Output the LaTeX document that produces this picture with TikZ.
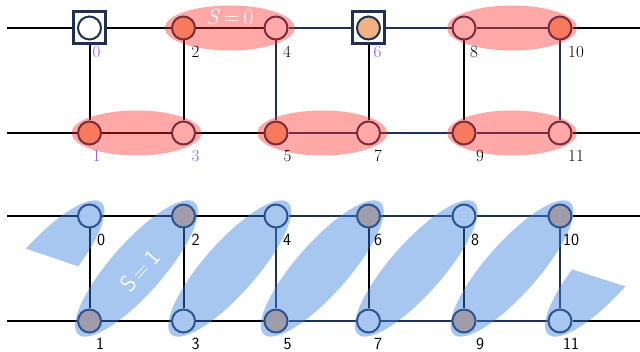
\documentclass[tikz,border=0pt]{standalone}
\usepackage{fontspec}
\usetikzlibrary{shapes.geometric,calc}
\definecolor{navy}{HTML}{1E3150}
\definecolor{peach}{HTML}{F2B283}
\definecolor{violet}{HTML}{9955EE}
\definecolor{redE}{HTML}{FF2626}
\definecolor{blueE}{HTML}{3D82DE}
\pgfdeclarelayer{background}
\pgfdeclarelayer{foreground}
\pgfsetlayers{background,main,foreground}
\begin{document}
\begin{tikzpicture}[x=1pt,y=-1pt,
  site/.style={circle,draw=navy,line width=2pt,minimum size=23pt,inner sep=0pt,fill=white},
  pk/.style={site,fill=peach},
  sqbox/.style={rectangle,draw=navy,line width=3pt,fill=white,minimum size=32pt,inner sep=0pt},
  bond/.style={line width=2pt,draw=black},
  nbond/.style={line width=2pt,draw=navy},
  lab/.style={font=\fontsize{17}{19}\selectfont,inner sep=0pt},
  slab/.style={font=\sffamily\fontsize{17}{19}\selectfont,inner sep=0pt},
  redell/.style={ellipse,fill=redE,fill opacity=0.4,inner sep=0pt,minimum width=130pt,minimum height=45pt},
  blueell/.style={ellipse,fill=blueE,fill opacity=0.45,inner sep=0pt,minimum width=176pt,minimum height=52pt,rotate=48.5}]
\useasboundingbox (0,0) rectangle (640,352);

% ---------- top half ----------
\node[sqbox] (sq0) at (89.5,28) {};
\node[sqbox] (sq6) at (368.5,28) {};
\node[site] (t0) at (89.5,28) {};
\node[pk]   (t2) at (183.5,28) {};
\node[site] (t4) at (276,28) {};
\node[pk]   (t6) at (368.5,28) {};
\node[site] (t8) at (464,28) {};
\node[pk]   (t10) at (560,28) {};
\node[pk]   (t1) at (89.5,133) {};
\node[site] (t3) at (183.5,133) {};
\node[pk]   (t5) at (276,133) {};
\node[site] (t7) at (368.5,133) {};
\node[pk]   (t9) at (464,133) {};
\node[site] (t11) at (560,133) {};
\coordinate (tLa) at (7,28);
\coordinate (tRa) at (640,28);
\coordinate (tLb) at (7,133);
\coordinate (tRb) at (640,133);

% ---------- bottom half ----------
\node[site] (b0) at (89.5,216) {};
\node[pk]   (b2) at (183.5,216) {};
\node[site] (b4) at (276,216) {};
\node[pk]   (b6) at (368.5,216) {};
\node[site] (b8) at (464,216) {};
\node[pk]   (b10) at (560,216) {};
\node[pk]   (b1) at (89.5,321) {};
\node[site] (b3) at (183.5,321) {};
\node[pk]   (b5) at (276,321) {};
\node[site] (b7) at (368.5,321) {};
\node[pk]   (b9) at (464,321) {};
\node[site] (b11) at (560,321) {};
\coordinate (bLa) at (7,216);
\coordinate (bRa) at (640,216);
\coordinate (bLb) at (7,321);
\coordinate (bRb) at (640,321);

\begin{pgfonlayer}{background}
  \fill[white] (0,0) rectangle (640,352);
  % top half bonds
  \draw[bond] (tLa) -- (t0);
  \draw[bond] (t0) -- (t2);
  \draw[bond] (t2) -- (t4);
  \draw[nbond] (t4) -- (t6);
  \draw[nbond] (t6) -- (t8);
  \draw[nbond] (t8) -- (t10);
  \draw[bond] (t10) -- (tRa);
  \draw[bond] (tLb) -- (t1);
  \draw[bond] (t1) -- (t3);
  \draw[bond] (t3) -- (t5);
  \draw[nbond] (t5) -- (t7);
  \draw[nbond] (t7) -- (t9);
  \draw[nbond] (t9) -- (t11);
  \draw[bond] (t11) -- (tRb);
  \draw[bond] (t0) -- (t1);
  \draw[bond] (t2) -- (t3);
  \draw[nbond] (t4) -- (t5);
  \draw[bond] (t6) -- (t7);
  \draw[bond] (t8) -- (t9);
  \draw[nbond] (t10) -- (t11);
  % bottom half bonds
  \draw[bond] (bLa) -- (b0);
  \draw[bond] (b0) -- (b2);
  \draw[bond] (b2) -- (b4);
  \draw[nbond] (b4) -- (b6);
  \draw[nbond] (b6) -- (b8);
  \draw[nbond] (b8) -- (b10);
  \draw[bond] (b10) -- (bRa);
  \draw[bond] (bLb) -- (b1);
  \draw[bond] (b1) -- (b3);
  \draw[bond] (b3) -- (b5);
  \draw[nbond] (b5) -- (b7);
  \draw[nbond] (b7) -- (b9);
  \draw[nbond] (b9) -- (b11);
  \draw[bond] (b11) -- (bRb);
  \draw[bond] (b0) -- (b1);
  \draw[bond] (b2) -- (b3);
  \draw[nbond] (b4) -- (b5);
  \draw[bond] (b6) -- (b7);
  \draw[bond] (b8) -- (b9);
  \draw[nbond] (b10) -- (b11);
\end{pgfonlayer}

\begin{pgfonlayer}{foreground}
  % red pair ellipses
  \node[redell] (e24) at ($(t2)!0.5!(t4)$) {};
  \node[redell] (e810) at ($(t8)!0.5!(t10)$) {};
  \node[redell] (e13) at ($(t1)!0.5!(t3)$) {};
  \node[redell] (e57) at ($(t5)!0.5!(t7)$) {};
  \node[redell] (e911) at ($(t9)!0.5!(t11)$) {};
  % blue diagonal ellipses
  \node[blueell] (f12) at ($(b1)!0.5!(b2)$) {};
  \node[blueell] (f34) at ($(b3)!0.5!(b4)$) {};
  \node[blueell] (f56) at ($(b5)!0.5!(b6)$) {};
  \node[blueell] (f78) at ($(b7)!0.5!(b8)$) {};
  \node[blueell] (f910) at ($(b9)!0.5!(b10)$) {};
  \begin{scope}
    \clip (-100,205.8) -- (200,307.8) -- (200,100) -- (-100,100) -- cycle;
    \node[blueell] (fL) at (43,268.5) {};
  \end{scope}
  \begin{scope}
    \clip (500,246.3) -- (700,310.3) -- (700,400) -- (500,400) -- cycle;
    \node[blueell] (fR) at (606.5,268.5) {};
  \end{scope}
  % texts
  \node[text=white,font=\fontsize{22}{26}\selectfont] (s0) at (230,17) {\textit{S}\,=\,0};
  \node[text=white,font=\sffamily\fontsize{23}{27}\selectfont,rotate=48.5] (s1) at (140,271) {S\,=\,1};
  % top labels
  \node[lab,text=violet] (l0) at (96.5,52) {0};
  \node[lab] (l2) at (195.5,52) {2};
  \node[lab] (l4) at (287,52) {4};
  \node[lab,text=violet] (l6) at (377.5,52) {6};
  \node[lab] (l8) at (474,52) {8};
  \node[lab] (l10) at (576,52) {10};
  \node[lab,text=violet] (l1) at (96.5,156) {1};
  \node[lab,text=violet] (l3) at (195.5,156) {3};
  \node[lab] (l5) at (287.5,156) {5};
  \node[lab] (l7) at (378,156) {7};
  \node[lab] (l9) at (480,156) {9};
  \node[lab] (l11) at (576,156) {11};
  % bottom labels
  \node[slab] (m0) at (101,240) {0};
  \node[slab] (m2) at (195.5,240) {2};
  \node[slab] (m4) at (287,240) {4};
  \node[slab] (m6) at (378,240) {6};
  \node[slab] (m8) at (475,240) {8};
  \node[slab] (m10) at (571,240) {10};
  \node[slab] (m1) at (100,344) {1};
  \node[slab] (m3) at (195.5,344) {3};
  \node[slab] (m5) at (287.5,344) {5};
  \node[slab] (m7) at (378,344) {7};
  \node[slab] (m9) at (480,344) {9};
  \node[slab] (m11) at (571,344) {11};
\end{pgfonlayer}
\end{tikzpicture}
\end{document}
